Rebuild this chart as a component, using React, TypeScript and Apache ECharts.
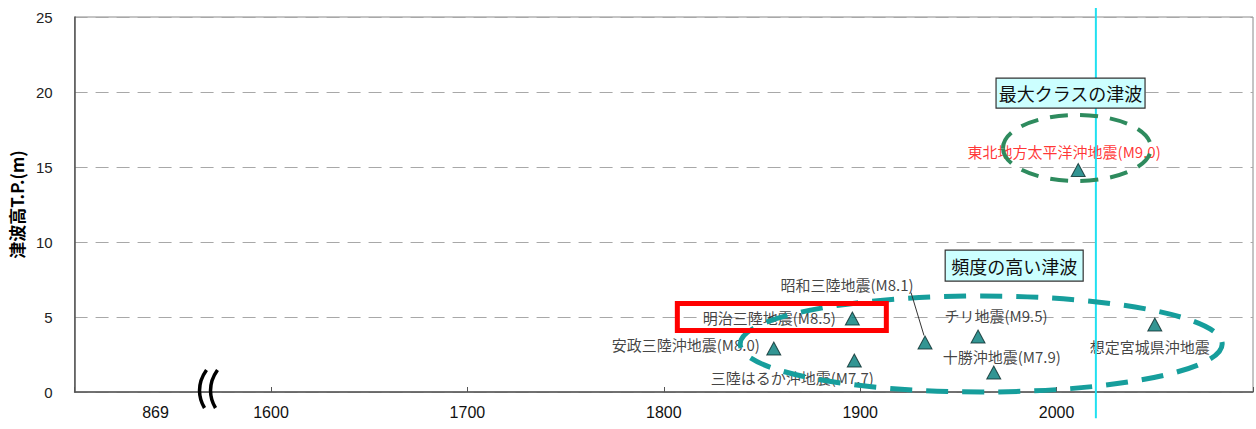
import React, { useEffect, useRef } from "react";
import * as echarts from "echarts";

// ---- data ----
const eventNames = [
  "安政三陸沖地震(M8.0)",
  "明治三陸地震(M8.5)",
  "三陸はるか沖地震(M7.7)",
  "昭和三陸地震(M8.1)",
  "チリ地震(M9.5)",
  "十勝沖地震(M7.9)",
  "想定宮城県沖地震",
  "東北地方太平洋沖地震(M9.0)",
];
const eventYears = [1856, 1896, 1897, 1933, 1960, 1968, 2050, 2011];
const eventHeights = [2.9, 4.9, 2.1, 3.3, 3.7, 1.3, 4.5, 14.8];
const xTickLabels = ["1600", "1700", "1800", "1900", "2000"];
const yTickLabels = ["0", "5", "10", "15", "20", "25"];
const brokenAxisLabel = "869";
const yAxisName = "津波高T.P.(m)";
const boxMaxText = "最大クラスの津波";
const boxFreqText = "頻度の高い津波";
const presentYear = 2020;

// ---- layout (label offsets relative to each marker) ----
const labelOffsets = [
  [-88, -4],
  [-83, -1],
  [-62, 17],
  [-78, -58],
  [18, -21],
  [8, -16],
  [-5, 22],
  [-14, -19],
];
const labelColors = ["#111", "#111", "#111", "#111", "#111", "#111", "#111", "#ff0000"];

const FONT = "'Noto Sans CJK JP', 'Noto Sans', sans-serif";

export default function App() {
  const ref = useRef<HTMLDivElement>(null);

  useEffect(() => {
    if (!ref.current) return;
    const chart = echarts.init(ref.current, null, { renderer: "svg" });

    const data = eventNames.map((n, i) => ({
      name: n,
      value: [eventYears[i], eventHeights[i]],
      label: { offset: labelOffsets[i], color: labelColors[i] },
    }));

    chart.setOption({
      animation: false,
      backgroundColor: "#ffffff",
      grid: {
        left: 74,
        right: 3,
        top: 17,
        bottom: 37,
        show: true,
        borderColor: "#8a8a8a",
        borderWidth: 1,
      },
      xAxis: {
        type: "value",
        min: 1500,
        max: 2100,
        interval: 100,
        axisLine: { lineStyle: { color: "#555", width: 1.5 } },
        axisTick: { inside: true, length: 5, lineStyle: { color: "#555" } },
        splitLine: { show: false },
        axisLabel: {
          fontSize: 16,
          color: "#111",
          margin: 12,
          fontFamily: "'Liberation Sans Narrow', 'Liberation Sans', sans-serif",
          formatter: (v: number) => {
            const s = String(v);
            return xTickLabels.includes(s) ? s : "";
          },
        },
      },
      yAxis: {
        type: "value",
        min: 0,
        max: 25,
        interval: 5,
        name: yAxisName,
        nameLocation: "middle",
        nameRotate: 90,
        nameGap: 44,
        nameTextStyle: { fontSize: 17, fontWeight: "bold", color: "#000", fontFamily: FONT },
        axisLine: { show: true, lineStyle: { color: "#555", width: 1.5 } },
        axisTick: { show: false },
        axisLabel: {
          fontSize: 15,
          color: "#222",
          margin: 22,
          fontFamily: "'Liberation Sans', sans-serif",
          formatter: (v: number) => {
            const s = String(v);
            return yTickLabels.includes(s) ? s : "";
          },
        },
        splitLine: {
          show: true,
          lineStyle: { color: "#a8a8a8", type: [13, 8], width: 1 },
        },
      },
      series: [
        {
          type: "scatter",
          symbol: "triangle",
          symbolSize: [14, 13],
          itemStyle: { color: "#007a78", borderColor: "#0a2a2a", borderWidth: 1 },
          label: {
            show: true,
            position: "inside",
            align: "center",
            verticalAlign: "middle",
            formatter: "{b}",
            fontSize: 15,
            fontFamily: FONT,
          },
          data,
          z: 3,
        },
      ],
    });

    const P = (x: number, y: number) =>
      chart.convertToPixel({ xAxisIndex: 0, yAxisIndex: 0 }, [x, y]) as number[];

    const top = P(presentYear, 25.6);
    const bot = P(presentYear, -1.75);
    const greenC = P(2010.4, 16.27);
    const tealC = P(1961.6, 3.2);
    const boxMax = P(2007.1, 19.93);
    const boxFreq = P(1978.4, 8.43);
    const meiji = P(eventYears[1], eventHeights[1]);
    const showa = P(eventYears[3], eventHeights[3]);
    const l869 = P(1541.2, 0);
    const brk = P(1568.7, 0);

    const boxEl = (c: number[], w: number, h: number, text: string) => [
      {
        type: "rect",
        shape: { x: c[0] - w / 2, y: c[1] - h / 2, width: w, height: h },
        style: { fill: "#ccffff", stroke: "#333", lineWidth: 1.2 },
        z: 10,
      },
      {
        type: "text",
        x: c[0],
        y: c[1],
        style: {
          text,
          fontSize: 18,
          fontFamily: FONT,
          fill: "#111",
          align: "center",
          verticalAlign: "middle",
        },
        z: 11,
      },
    ];

    const breakCurve = (dx: number) => ({
      type: "bezierCurve",
      shape: {
        x1: brk[0] + dx + 3,
        y1: brk[1] - 22,
        cpx1: brk[0] + dx - 7,
        cpy1: brk[1] - 8,
        cpx2: brk[0] + dx - 5,
        cpy2: brk[1] + 6,
        x2: brk[0] + dx + 1,
        y2: brk[1] + 16,
      },
      style: { stroke: "#000", lineWidth: 3.5, fill: "none" },
      z: 12,
    });

    chart.setOption({
      graphic: [
        {
          type: "line",
          shape: { x1: top[0], y1: top[1], x2: bot[0], y2: bot[1] },
          style: { stroke: "#20e0f0", lineWidth: 2 },
          z: 5,
        },
        {
          type: "ellipse",
          shape: { cx: greenC[0], cy: greenC[1], rx: 74, ry: 33 },
          style: { fill: "none", stroke: "#2e8b5e", lineWidth: 4, lineDash: [18, 12] },
          z: 6,
        },
        {
          type: "ellipse",
          shape: { cx: tealC[0], cy: tealC[1], rx: 241, ry: 48 },
          style: { fill: "none", stroke: "#169e9c", lineWidth: 5, lineDash: [22, 14] },
          z: 6,
        },
        ...boxEl(boxMax, 149, 30, boxMaxText),
        ...boxEl(boxFreq, 138, 31, boxFreqText),
        {
          type: "rect",
          shape: { x: meiji[0] - 175, y: meiji[1] - 15, width: 209, height: 27 },
          style: { fill: "none", stroke: "#ff0000", lineWidth: 5 },
          z: 8,
        },
        {
          type: "line",
          shape: { x1: showa[0] - 14, y1: showa[1] - 50, x2: showa[0] - 1, y2: showa[1] - 7 },
          style: { stroke: "#333", lineWidth: 1 },
          z: 7,
        },
        {
          type: "text",
          x: l869[0],
          y: l869[1] + 20,
          style: {
            text: brokenAxisLabel,
            fontSize: 16,
            fontFamily: "'Liberation Sans', sans-serif",
            fill: "#111",
            align: "center",
            verticalAlign: "middle",
          },
          z: 10,
        },
        breakCurve(-6),
        breakCurve(5),
      ],
    });

    return () => chart.dispose();
  }, []);

  return (
    <div
      ref={ref}
      style={{ position: "fixed", left: 0, top: 0, width: 1256, height: 429, background: "#fff" }}
    />
  );
}
